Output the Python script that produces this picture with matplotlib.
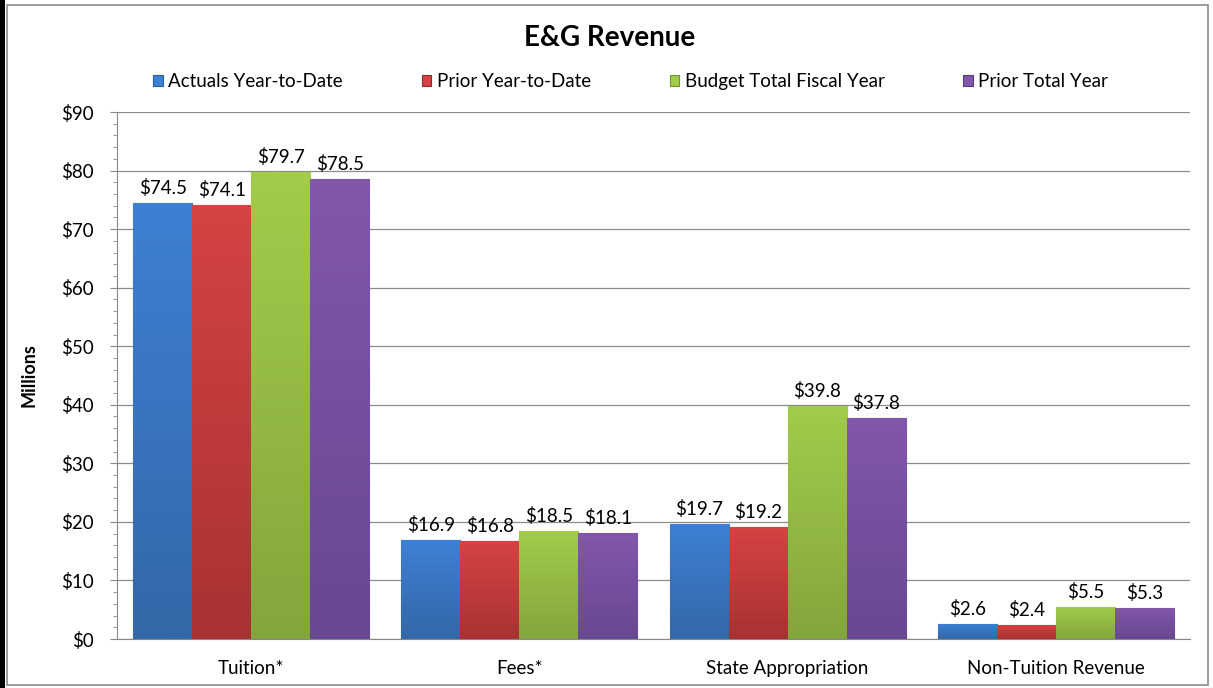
import matplotlib.pyplot as plt
import matplotlib.patches as patches
from matplotlib.colors import LinearSegmentedColormap
import numpy as np

plt.rcParams['font.family'] = ['Lato', 'DejaVu Sans']

categories = ["Tuition*", "Fees*", "State Appropriation", "Non-Tuition Revenue"]
series_names = ["Actuals Year-to-Date", "Prior Year-to-Date",
                "Budget Total Fiscal Year", "Prior Total Year"]
actuals_ytd = [74.5, 16.9, 19.7, 2.6]
prior_ytd = [74.1, 16.8, 19.2, 2.4]
budget_total = [79.7, 18.5, 39.8, 5.5]
prior_total = [78.5, 18.1, 37.8, 5.3]
series_values = [actuals_ytd, prior_ytd, budget_total, prior_total]

colors = ["#3D80D4", "#D64343", "#A2CC4A", "#8257AC"]
bottoms = ["#3468A8", "#A83232", "#83A53E", "#684890"]
edges = ["#2B5C9E", "#8E2A2A", "#6E9430", "#553A7A"]

fig = plt.figure(figsize=(12.13, 6.88), dpi=100)
ax = fig.add_axes([0.0965, 0.0712, 0.8845, 0.766])

x = np.arange(len(categories))
width = 0.22
grad = np.linspace(0, 1, 256).reshape(-1, 1)
for i, (name, vals) in enumerate(zip(series_names, series_values)):
    pos = x + (i - 1.5) * width
    bars = ax.bar(pos, vals, width, color=colors[i], edgecolor=edges[i],
                  linewidth=0.8, label=name, zorder=3)
    cmap = LinearSegmentedColormap.from_list("g%d" % i, [bottoms[i], colors[i]])
    for b, v in zip(bars, vals):
        # vertical shading inside each bar
        im = ax.imshow(grad, cmap=cmap, aspect="auto", origin="lower",
                       extent=(b.get_x(), b.get_x() + b.get_width(), 0, v),
                       zorder=3.5)
        im.set_clip_path(b)
        ax.text(b.get_x() + b.get_width() / 2, v + 1.0, "$%.1f" % v,
                ha="center", va="bottom", fontsize=13.5, zorder=4)

ax.set_xlim(-0.5, 3.5)
ax.set_ylim(0, 90)
ax.set_yticks(np.arange(0, 91, 10))
ax.set_yticklabels(["$%d" % v for v in range(0, 91, 10)], fontsize=13.5)
ax.set_yticks(np.arange(0, 91, 2), minor=True)
ax.set_xticks(x)
ax.set_xticklabels(categories, fontsize=13.5)
ax.tick_params(axis="x", length=0, pad=15)
ax.tick_params(axis="y", which="major", length=5, color="#888888", pad=12)
ax.tick_params(axis="y", which="minor", length=3, color="#888888")
ax.grid(axis="y", color="#8c8c8c", linewidth=0.9, zorder=0)
for s in ["top", "right"]:
    ax.spines[s].set_visible(False)
ax.spines["left"].set_color("#888888")
ax.spines["bottom"].set_color("#888888")

ax.set_ylabel("Millions", fontsize=13, fontweight="bold")
ax.yaxis.set_label_coords(-0.0746, 0.5)

fig.text(0.5025, 0.945, "E&G Revenue", ha="center", va="center",
         fontsize=20, fontweight="bold")
fig.legend(loc="center left", bbox_to_anchor=(0.1125, 0.881), ncol=4, frameon=False,
           fontsize=13.5, handlelength=0.5, handleheight=0.5,
           handletextpad=0.3, columnspacing=4.2)

# chart frame
fig.patches.append(patches.Rectangle((0.0055, 0.005), 0.9905, 0.988, transform=fig.transFigure,
                                     fill=False, edgecolor="#8c8c8c", linewidth=1.2))
fig.patches.append(patches.Rectangle((0.0, 0.0), 0.004, 1.0, transform=fig.transFigure,
                                     facecolor="black", edgecolor="none"))

fig.savefig("out.png", dpi=100)
